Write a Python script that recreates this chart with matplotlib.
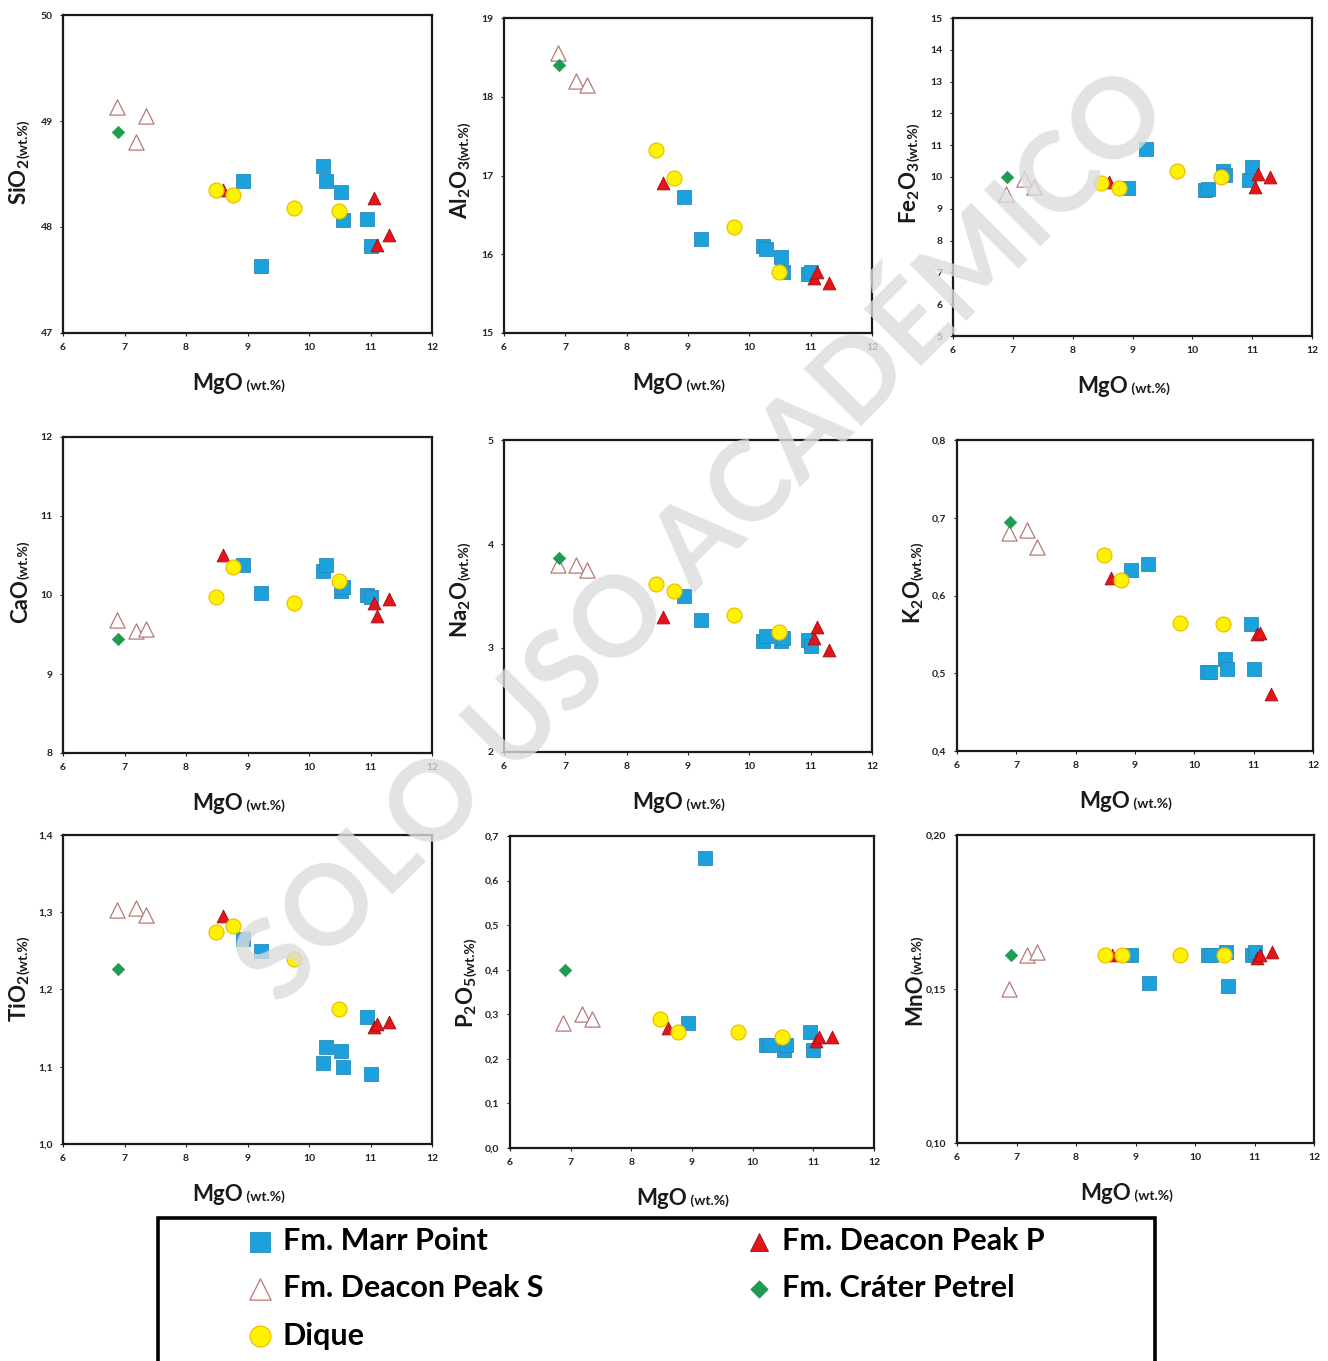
import matplotlib
matplotlib.use("Agg")
import matplotlib.pyplot as plt
from matplotlib.patches import Rectangle
from matplotlib.ticker import FixedLocator, FuncFormatter
import numpy as np

plt.rcParams['font.family'] = ['Lato', 'DejaVu Sans']
plt.rcParams['mathtext.fontset'] = 'custom'
plt.rcParams['mathtext.rm'] = 'Lato:bold'
plt.rcParams['mathtext.bf'] = 'Lato:bold'
plt.rcParams['mathtext.default'] = 'bf'

# sample groups (order of the samples in the oxide lists below)
groups = ['Marr'] * 8 + ['DPP'] * 4 + ['DPS'] * 3 + ['Crater'] + ['Dique'] * 4

mgo   = [8.93, 9.22, 10.22, 10.27, 10.52, 10.55, 10.95, 11.00,
         8.60, 11.05, 11.10, 11.30,
         6.88, 7.18, 7.35,
         6.90,
         8.48, 8.77, 9.75, 10.48]
sio2  = [48.43, 47.63, 48.58, 48.43, 48.33, 48.07, 48.08, 47.82,
         48.35, 48.27, 47.83, 47.92,
         49.13, 48.80, 49.05,
         48.90,
         48.35, 48.30, 48.18, 48.15]
al2o3 = [16.73, 16.20, 16.10, 16.07, 15.97, 15.77, 15.75, 15.78,
         16.90, 15.70, 15.77, 15.63,
         18.55, 18.20, 18.15,
         18.40,
         17.32, 16.97, 16.35, 15.77]
fe2o3 = [9.65, 10.87, 9.60, 9.62, 10.20, 10.05, 9.90, 10.30,
         9.85, 9.70, 10.10, 10.00,
         9.45, 9.95, 9.70,
         10.00,
         9.80, 9.65, 10.20, 10.00]
cao   = [10.38, 10.02, 10.30, 10.38, 10.05, 10.10, 10.00, 9.97,
         10.50, 9.90, 9.73, 9.95,
         9.68, 9.55, 9.57,
         9.44,
         9.98, 10.35, 9.90, 10.18]
na2o  = [3.50, 3.27, 3.07, 3.12, 3.07, 3.10, 3.08, 3.02,
         3.30, 3.10, 3.20, 2.98,
         3.80, 3.80, 3.75,
         3.87,
         3.62, 3.55, 3.32, 3.15]
k2o   = [0.633, 0.640, 0.502, 0.502, 0.518, 0.506, 0.563, 0.505,
         0.622, 0.550, 0.552, 0.473,
         0.680, 0.684, 0.663,
         0.694,
         0.652, 0.620, 0.565, 0.563]
tio2  = [1.265, 1.250, 1.105, 1.125, 1.120, 1.100, 1.165, 1.090,
         1.295, 1.152, 1.155, 1.158,
         1.303, 1.305, 1.297,
         1.226,
         1.275, 1.282, 1.240, 1.175]
p2o5  = [0.28, 0.65, 0.23, 0.23, 0.22, 0.23, 0.26, 0.22,
         0.27, 0.24, 0.25, 0.25,
         0.28, 0.30, 0.29,
         0.40,
         0.29, 0.26, 0.26, 0.25]
mno   = [0.161, 0.152, 0.161, 0.161, 0.162, 0.151, 0.161, 0.162,
         0.161, 0.160, 0.161, 0.162,
         0.150, 0.161, 0.162,
         0.161,
         0.161, 0.161, 0.161, 0.161]

group_names = {'Marr': 'Fm. Marr Point', 'DPP': 'Fm. Deacon Peak P',
               'DPS': 'Fm. Deacon Peak S', 'Crater': 'Fm. Cráter Petrel',
               'Dique': 'Dique'}

styles = {
    'Marr':   dict(marker='s', s=105, facecolor='#1ba1dc', edgecolor='#2a8ab8', linewidth=0.6),
    'DPP':    dict(marker='^', s=85, facecolor='#e3151b', edgecolor='#a01010', linewidth=0.6),
    'DPS':    dict(marker='^', s=120, facecolor='white', edgecolor='#b77a74', linewidth=0.9),
    'Crater': dict(marker='D', s=40, facecolor='#1f9c50', edgecolor='#1f9c50', linewidth=0.5),
    'Dique':  dict(marker='o', s=115, facecolor='#fff200', edgecolor='#f0c000', linewidth=0.9),
}

# (y values, label, ylim, ytick step, decimals)
panels = [
    (sio2,  'SiO$_2$',  (47, 50), 1, 0),
    (al2o3, 'Al$_2$O$_3$', (15, 19), 1, 0),
    (fe2o3, 'Fe$_2$O$_3$', (5, 15), 1, 0),
    (cao,   'CaO',      (8, 12), 1, 0),
    (na2o,  'Na$_2$O',  (2, 5), 1, 0),
    (k2o,   'K$_2$O',   (0.4, 0.8), 0.1, 1),
    (tio2,  'TiO$_2$',  (1.0, 1.4), 0.1, 1),
    (p2o5,  'P$_2$O$_5$', (0.0, 0.7), 0.1, 1),
    (mno,   'MnO',      (0.10, 0.20), 0.05, 2),
]

# axes boxes in pixels: left, top, right, bottom
boxes = [
    (63, 15, 432, 333), (504, 18, 872, 333), (953, 18, 1312, 336),
    (63, 437, 432, 753), (504, 440, 872, 752), (957, 440, 1313, 751),
    (63, 835, 432, 1144), (510, 836, 874, 1148), (957, 835, 1314, 1143),
]

W, H = 1328, 1361
fig = plt.figure(figsize=(W / 100, H / 100), dpi=100)

groups_arr = np.array(groups)
order = ['Marr', 'DPP', 'DPS', 'Crater', 'Dique']
handles = {}

for (yvals, label, ylim, step, dec), (l, t, r, b) in zip(panels, boxes):
    ax = fig.add_axes([l / W, 1 - b / H, (r - l) / W, (b - t) / H])
    x = np.array(mgo)
    y = np.array(yvals)
    for z, g in enumerate(order):
        m = groups_arr == g
        h = ax.scatter(x[m], y[m], zorder=3 + z, **styles[g])
        handles[g] = h
    ax.set_xlim(6, 12)
    ax.set_ylim(*ylim)
    ax.xaxis.set_major_locator(FixedLocator(np.arange(6, 13, 1)))
    ax.yaxis.set_major_locator(FixedLocator(np.round(np.arange(ylim[0], ylim[1] + step / 2, step), 3)))
    ax.yaxis.set_major_formatter(FuncFormatter(lambda v, p, d=dec: f'{v:.{d}f}'.replace('.', ',')))
    ax.tick_params(labelsize=7.5, length=2.5, width=0.8, pad=5, colors='#222222')
    for lab in ax.get_xticklabels() + ax.get_yticklabels():
        lab.set_fontweight('bold')
    for sp in ax.spines.values():
        sp.set_linewidth(1.6)
        sp.set_color('#1a1a1a')

    # x label: "MgO" + small "(wt.%)"
    ax.annotate('MgO', xy=(0.487, 0), xycoords='axes fraction', xytext=(0, -41),
                textcoords='offset points', ha='right', va='baseline',
                fontsize=16, fontweight='bold', color='#1a1a1a')
    ax.annotate(' (wt.%)', xy=(0.487, 0), xycoords='axes fraction', xytext=(0, -41),
                textcoords='offset points', ha='left', va='baseline',
                fontsize=10, fontweight='bold', color='#1a1a1a')
    # y label: oxide + small "(wt.%)"
    ax.annotate(label, xy=(0, 0.55), xycoords='axes fraction', xytext=(-26, 0),
                textcoords='offset points', ha='right', va='baseline', rotation=90,
                rotation_mode='anchor', fontsize=16, fontweight='bold', color='#1a1a1a')
    ax.annotate('(wt.%)', xy=(0, 0.55), xycoords='axes fraction', xytext=(-26, 0),
                textcoords='offset points', ha='left', va='baseline', rotation=90,
                rotation_mode='anchor', fontsize=10, fontweight='bold', color='#1a1a1a')

# legend box, running off the bottom edge
fig.patches.append(Rectangle((158 / W, -0.02), (1155 - 158) / W, 0.02 + 1 - 1218 / H,
                             transform=fig.transFigure, fill=False, linewidth=2.6,
                             edgecolor='black'))
leg_order = ['Marr', 'DPS', 'Dique', 'DPP', 'Crater']
fig.legend([handles[g] for g in leg_order], [group_names[g] for g in leg_order],
           ncol=2, loc='upper left', bbox_to_anchor=(246 / W, 1 - 1227 / H),
           frameon=False, prop=dict(family='Lato', weight='bold', size=22),
           borderpad=0, borderaxespad=0, handlelength=0.9, handletextpad=0.31,
           labelspacing=0.63, columnspacing=6.6, scatterpoints=1, markerscale=1.4)

# watermark
fig.text(0.53, 0.605, 'SOLO USO ACADÉMICO', rotation=45, ha='center', va='center',
         fontsize=80, fontweight='bold', color='#dcdcdc', alpha=0.8, zorder=100)

fig.savefig('out.png', dpi=100)
